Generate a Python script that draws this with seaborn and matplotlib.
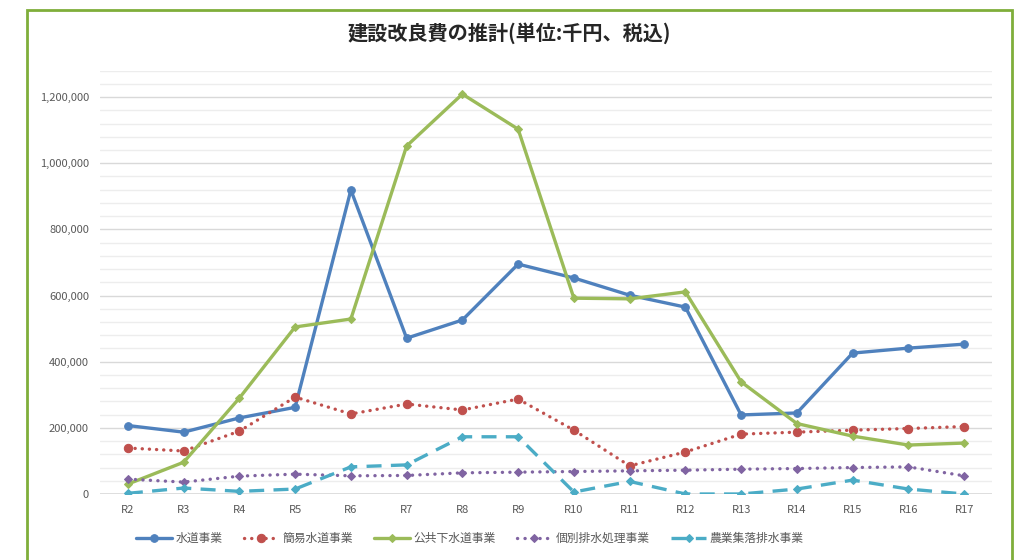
import matplotlib
matplotlib.use("Agg")
import matplotlib.pyplot as plt
import seaborn as sns
import pandas as pd
from matplotlib.patches import Rectangle
from matplotlib.ticker import FuncFormatter, MultipleLocator

sns.set_theme(style="white")
plt.rcParams['font.family'] = ['Noto Sans CJK JP', 'DejaVu Sans']

categories = ["R2", "R3", "R4", "R5", "R6", "R7", "R8", "R9", "R10",
              "R11", "R12", "R13", "R14", "R15", "R16", "R17"]
water = [207000, 187000, 230000, 262000, 919000, 471000, 526000, 695000,
         653000, 601000, 565000, 239000, 245000, 426000, 441000, 453000]
simple_water = [139000, 130000, 190000, 293000, 242000, 272000, 254000, 287000,
                193000, 85000, 127000, 181000, 187000, 193000, 198000, 204000]
sewer = [30000, 96000, 290000, 505000, 529000, 1052000, 1209000, 1103000,
         592000, 590000, 611000, 339000, 213000, 175000, 148000, 154000]
individual = [45000, 36000, 54000, 60000, 55000, 56000, 64000, 66000,
              68000, 70000, 72000, 75000, 77000, 80000, 82000, 55000]
rural = [2000, 18000, 8000, 15000, 82000, 88000, 173000, 173000,
         6000, 38000, 0, 0, 15000, 42000, 15000, 0]

series_names = ["水道事業", "簡易水道事業", "公共下水道事業", "個別排水処理事業", "農業集落排水事業"]
series_values = [water, simple_water, sewer, individual, rural]
colors = ["#4F81BD", "#C0504D", "#9BBB59", "#8064A2", "#4BACC6"]
styles = [
    dict(linestyle="-", marker="o", markersize=5.5, cap="butt"),
    dict(linestyle=(0, (0.05, 2.1)), marker="o", markersize=6, cap="round"),
    dict(linestyle="-", marker="D", markersize=3.8, cap="butt"),
    dict(linestyle=(0, (0.05, 2.2)), marker="D", markersize=3.8, cap="round"),
    dict(linestyle=(0, (4.5, 2.8)), marker="D", markersize=3.8, cap="butt"),
]

fig = plt.figure(figsize=(10.23, 5.6), dpi=100)
fig.patch.set_facecolor("white")
fig.patches.append(Rectangle((27/1023, -0.02), (1012-27)/1023, (560-10)/560 + 0.02,
                             transform=fig.transFigure, fill=False,
                             edgecolor="#7FAE3A", linewidth=2.0, zorder=0))

ax = fig.add_axes([100/1023, 66/560, (992-100)/1023, (494-70.6)/560])
x_idx = list(range(len(categories)))
for name, vals, col, st in zip(series_names, series_values, colors, styles):
    df = pd.DataFrame({"x": x_idx, "y": vals})
    sns.lineplot(data=df, x="x", y="y", ax=ax, color=col, linewidth=2.4,
                 linestyle=st["linestyle"], marker=st["marker"],
                 markersize=st["markersize"], markeredgecolor=col,
                 markerfacecolor=col, label=name, zorder=3,
                 dash_capstyle=st["cap"])

ax.set_xlim(-0.5, len(categories) - 0.5)
ax.set_ylim(0, 1280000)
ax.set_xticks(x_idx)
ax.set_xticklabels(categories)
ax.yaxis.set_major_locator(MultipleLocator(200000))
ax.yaxis.set_minor_locator(MultipleLocator(40000))
ax.yaxis.set_major_formatter(FuncFormatter(lambda v, p: f"{int(v):,}"))
ax.grid(which="major", axis="y", color="#D9D9D9", linewidth=1.0, zorder=0)
ax.grid(which="minor", axis="y", color="#EDEDED", linewidth=1.0, zorder=0)
ax.grid(which="major", axis="x", visible=False)
ax.set_axisbelow(True)
for s in ax.spines.values():
    s.set_visible(False)
ax.axhline(0, color="#D9D9D9", linewidth=1.2, zorder=1)
ax.tick_params(axis="both", which="both", length=0, labelsize=8, colors="#595959", pad=8)
ax.set_xlabel("")
ax.set_ylabel("")

fig.text(0.5 - 2/1023, 1 - 33/560, "建設改良費の推計(単位:千円、税込)", ha="center", va="center",
         fontsize=14.5, fontweight="bold", color="#262626")

leg = ax.legend(loc="center", bbox_to_anchor=(0.415, -0.105), ncol=5, frameon=False,
                fontsize=8.5, handlelength=3.0, columnspacing=1.8, handletextpad=0.3)
for t in leg.get_texts():
    t.set_color("#595959")

fig.savefig("out.png", dpi=100, facecolor="white")
